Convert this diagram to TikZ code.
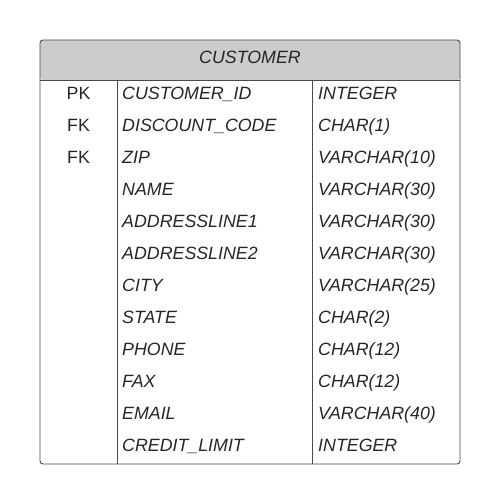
\documentclass[tikz,border=0pt]{standalone}
\usepackage{fontspec}
\setmainfont{Liberation Sans}
\definecolor{headgray}{HTML}{CCCCCC}
\definecolor{rulegray}{HTML}{4A4A4A}
\definecolor{textgray}{HTML}{262626}
\tikzset{
  entfont/.style={font=\fontsize{17.8}{21}\selectfont},
  cell/.style={anchor=base west, inner sep=0pt, text=textgray, font=\fontsize{17.8}{21}\selectfont\itshape},
  keycell/.style={entfont, anchor=base, inner sep=0pt, text=textgray},
  rule/.style={draw=rulegray, line width=0.9pt}
}
\begin{document}
\begin{tikzpicture}[x=1pt, y=-1pt, line join=round]
    \useasboundingbox (0,0) rectangle (500,504);

    % Corners of the entity box
    \coordinate (NW) at (40,40);
    \coordinate (SE) at (460,464);
    \coordinate (HL) at (40,80);    % left end of header rule
    \coordinate (HR) at (460,80);   % right end of header rule
    \coordinate (K1) at (117,80);   % key | name divider
    \coordinate (K2) at (117,464);
    \coordinate (T1) at (312,80);   % name | type divider
    \coordinate (T2) at (312,464);

    % Header band (top corners rounded)
    \fill[headgray, rounded corners=3pt] (HL) -- (NW) -- (460,40) -- (HR) -- cycle;

    % Outline and rules
    \draw[rule, rounded corners=3pt] (NW) rectangle (SE);
    \draw[rule] (HL) -- (HR);
    \draw[rule] (K1) -- (K2);
    \draw[rule] (T1) -- (T2);

    % Entity name
    \node[keycell, font=\fontsize{17.8}{21}\selectfont\itshape] (title) at (250,63.5) {CUSTOMER};

    % Key markers
    \foreach \k [count=\i] in {PK, FK, FK}
        \node[keycell] (key\i) at (78.5,{99.5+32*(\i-1)}) {\k};

    % Attribute rows
    \foreach \attr/\type [count=\i] in {
        CUSTOMER\_ID/INTEGER,
        DISCOUNT\_CODE/CHAR(1),
        ZIP/VARCHAR(10),
        NAME/VARCHAR(30),
        ADDRESSLINE1/VARCHAR(30),
        ADDRESSLINE2/VARCHAR(30),
        CITY/VARCHAR(25),
        STATE/CHAR(2),
        PHONE/CHAR(12),
        FAX/CHAR(12),
        EMAIL/VARCHAR(40),
        CREDIT\_LIMIT/INTEGER}
    {
        \node[cell] (name\i) at (122,{99.5+32*(\i-1)}) {\attr};
        \node[cell] (type\i) at (318,{99.5+32*(\i-1)}) {\type};
    }
\end{tikzpicture}
\end{document}
